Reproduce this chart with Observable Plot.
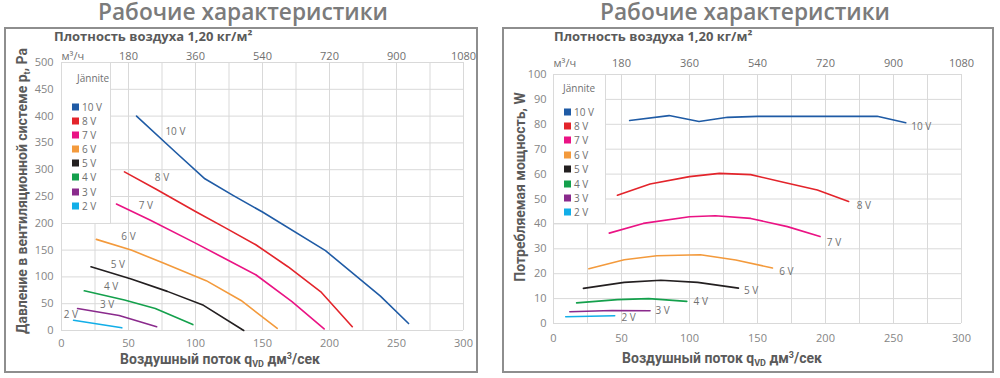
<!DOCTYPE html>
<html><head><meta charset="utf-8">
<script src="https://cdn.jsdelivr.net/npm/d3@7"></script>
<script src="https://cdn.jsdelivr.net/npm/@observablehq/plot@0.6"></script>
<style>
body{margin:0;background:#fff;font-family:"Open Sans",sans-serif;}
#page{position:relative;width:1000px;height:378px;overflow:hidden;background:#fff;}
.abs{position:absolute;white-space:nowrap;}
.title{font-size:22.7px;font-weight:600;color:#7b7b7b;transform:translateX(-50%);line-height:1;}
.frame{border:2px solid #8e8e8e;box-sizing:border-box;}
.dens{font-size:13px;font-weight:700;color:#5a5a5a;line-height:1;}
.axt{font-family:Roboto,sans-serif;font-size:14px;font-weight:700;color:#5a5a5a;line-height:1;transform:translate(-50%,-50%);}
.axt sub{font-size:9px;vertical-align:-3px;line-height:0;}
.axt sup{font-size:9px;vertical-align:5px;line-height:0;}
.rot{transform:translate(-50%,-50%) rotate(-90deg);}
.leg{background:#fff;border:1px solid #dadada;box-sizing:border-box;}
.legt{font-size:10px;color:#707070;line-height:1;transform:translateY(-50%);}
.sq{width:7px;height:7px;transform:translateY(-50%);}
</style></head>
<body><div id="page"></div>
<script>
// ---------------- data ----------------
const series = ["10 V", "8 V", "7 V", "6 V", "5 V", "4 V", "3 V", "2 V"];
const colors = ["#1f5ba5", "#e3242b", "#ea1384", "#f39a3c", "#231f20", "#14a04c", "#8a2a8c", "#12aee8"];

// pressure, Pa vs airflow dm3/s
const pressure10 = [[56,400],[85,333],[107,283],[128,252],[150,221],[197,149],[238,64],[259,13]];
const pressure8  = [[47,296],[71,263],[100,222],[122,192],[145,160],[169,119],[194,71],[217,7]];
const pressure7  = [[41,236],[66,206],[100,163],[119,138],[145,104],[172,54],[196,3]];
const pressure6  = [[26,170],[52,150],[76,126],[108,93],[134,56],[161,4]];
const pressure5  = [[22,119],[52,96],[79,73],[106,47],[136,0]];
const pressure4  = [[17,74],[47,57],[70,41],[98,11]];
const pressure3  = [[12,41],[43,28],[71,7]];
const pressure2  = [[9,19],[45,5]];

// power, W vs airflow dm3/s
const power10 = [[56,81.5],[85,83.5],[107,81.1],[128,82.8],[150,83.2],[197,83.2],[238,83.2],[259,80.6]];
const power8  = [[47,51.5],[71,56],[100,59],[122,60.3],[145,59.8],[169,56.7],[194,53.6],[217,49]];
const power7  = [[41,36.3],[66,40.2],[100,42.9],[119,43.3],[145,42.2],[172,38.9],[196,34.9]];
const power6  = [[26,22],[52,25.6],[76,27.2],[108,27.6],[134,25.5],[161,22.3]];
const power5  = [[22,14.1],[52,16.5],[79,17.4],[106,16.5],[136,14.2]];
const power4  = [[17,8.3],[47,9.6],[70,10],[98,8.9]];
const power3  = [[12,4.7],[43,5.2],[71,5.1]];
const power2  = [[9,2.7],[45,3.1]];

// curve label anchors
const pressureLabelX = [85, 75, 63, 50, 42, 37, 34, 7];
const pressureLabelY = [370, 284, 233, 175, 123, 81, 48, 29];
const powerLabelX = [263, 223, 201, 166, 140, 103, 75, 50];
const powerLabelY = [78.8, 47.3, 32.6, 20.9, 13.1, 8.7, 5.1, 2.4];

// ticks
const flowTicks = [0, 50, 100, 150, 200, 250, 300];
const topFlowTicks = [50, 100, 150, 200, 250, 300]; // shown as m3/h: 180 ... 1080
const pressureTicks = [0, 50, 100, 150, 200, 250, 300, 350, 400, 450, 500];
const powerTicks = [0, 10, 20, 30, 40, 50, 60, 70, 80, 90, 100];

const titleText = "Рабочие характеристики";
const densityText = "Плотность воздуха 1,20 кг/м²";
const legendTitle = "Jännite";

// ---------------- drawing ----------------
const page = document.getElementById("page");
function el(cls, css, html) {
  const d = document.createElement("div");
  d.className = cls;
  Object.assign(d.style, css);
  if (html !== undefined) d.innerHTML = html;
  page.appendChild(d);
  return d;
}
function rows(curves) {
  const out = [];
  curves.forEach((c, i) => c.forEach(([x, y]) => out.push({s: series[i], x, y})));
  return out;
}

function panel(o) {
  const svg = Plot.plot({
    width: o.w, height: 378,
    marginLeft: o.ml, marginRight: o.mr, marginTop: o.mt, marginBottom: o.mb,
    x: {domain: [0, 300]},
    y: {domain: o.yDomain},
    color: {domain: series, range: colors},
    style: {fontFamily: "Open Sans", fontSize: "11px", color: "#7d7d7d", background: "transparent", overflow: "visible"},
    marks: [
      Plot.gridX(d3.range(0, 301, 25), {stroke: "#d9d9d9", strokeOpacity: 1}),
      Plot.gridY(o.yTicks, {stroke: "#d9d9d9", strokeOpacity: 1}),
      Plot.axisX(flowTicks, {anchor: "bottom", tickSize: 0, tickPadding: o.bottomPad, label: null, fill: "#858585"}),
      Plot.axisX(topFlowTicks, {anchor: "top", tickSize: 0, tickPadding: o.topPad, label: null, fill: "#707070", tickFormat: d => String(d * 3.6)}),
      Plot.text(["м³/ч"], {frameAnchor: "top-left", textAnchor: "start", lineAnchor: "bottom", dy: -o.topPad, fill: "#707070"}),
      Plot.axisY(o.yTicks, {anchor: "left", tickSize: 0, tickPadding: o.leftPad, label: null, fill: "#858585"}),
      Plot.line(rows(o.curves), {x: "x", y: "y", z: "s", stroke: "s", strokeWidth: 1.6}),
      Plot.text(series, {x: (d, i) => o.labelX[i], y: (d, i) => o.labelY[i], text: d => d, textAnchor: o.labelAnchor, fill: "#707070", fontSize: 10})
    ]
  });
  svg.style.position = "absolute";
  svg.style.left = o.left + "px";
  svg.style.top = "0px";
  page.appendChild(svg);
}

// frames
el("abs frame", {left: "4px", top: "27px", width: "474px", height: "346px"});
el("abs frame", {left: "502px", top: "27px", width: "492px", height: "346px"});

// titles
el("abs title", {left: "243px", top: "1px"}, titleText);
el("abs title", {left: "745px", top: "1px"}, titleText);
el("abs dens", {left: "54px", top: "30px"}, densityText);
el("abs dens", {left: "554px", top: "30px"}, densityText);

panel({left: 0, w: 480, ml: 61, mr: 17, mt: 62, mb: 48, yDomain: [0, 500], yTicks: pressureTicks,
  curves: [pressure10, pressure8, pressure7, pressure6, pressure5, pressure4, pressure3, pressure2],
  labelX: pressureLabelX, labelY: pressureLabelY, labelAnchor: "middle", topPad: 3, bottomPad: 9, leftPad: 8});
panel({left: 500, w: 500, ml: 53, mr: 39, mt: 74, mb: 55, yDomain: [0, 100], yTicks: powerTicks,
  curves: [power10, power8, power7, power6, power5, power4, power3, power2],
  labelX: powerLabelX, labelY: powerLabelY, labelAnchor: "start", topPad: 8, bottomPad: 11, leftPad: 7});

// axis titles
const xTitle = "Воздушный поток q<sub>VD</sub> дм<sup>3</sup>/сек";
el("abs axt", {left: "220px", top: "359px"}, xTitle);
el("abs axt", {left: "722px", top: "358px"}, xTitle);
el("abs axt rot", {left: "22px", top: "191px"}, "Давление в вентиляционной системе p<sub>t</sub>, Pa");
el("abs axt rot", {left: "520px", top: "187px"}, "Потребляемая мощность, W");

// legends
function legend(bx, by, bw, bh, tx, ty, sx, y0, step) {
  el("abs leg", {left: bx + "px", top: by + "px", width: bw + "px", height: bh + "px"});
  el("abs legt", {left: tx + "px", top: ty + "px"}, legendTitle);
  series.forEach((s, i) => {
    const y = y0 + i * step;
    el("abs sq", {left: sx + "px", top: y + "px", background: colors[i]});
    el("abs legt", {left: (sx + 10) + "px", top: y + "px"}, s);
  });
}
legend(61, 62, 50, 162, 77, 78, 72, 106.7, 14.15);
legend(553, 74, 53, 150, 563, 88.3, 564, 111.7, 14.37);
</script>
</body></html>
